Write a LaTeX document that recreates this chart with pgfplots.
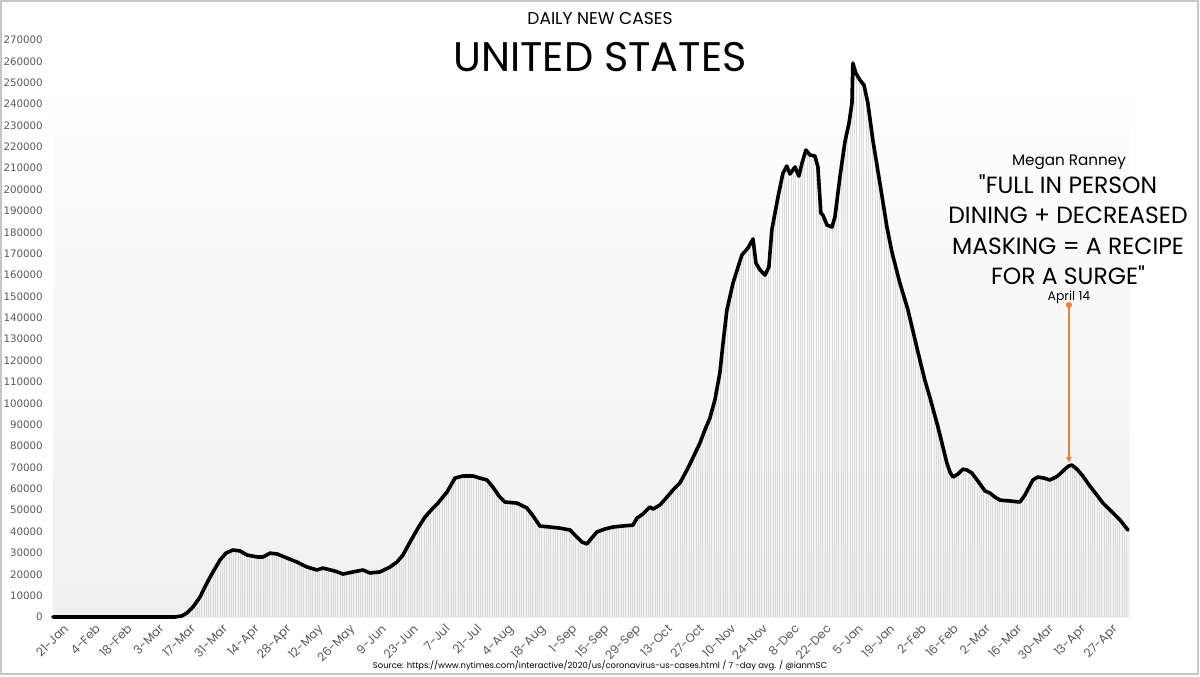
\documentclass[border=0pt]{standalone}
\usepackage{fontspec}
\setmainfont{Poppins}
\newfontfamily\qfont{Poppins}[Ligatures=TeXOff]
\newfontfamily\tickfont{DejaVu Sans}
\usepackage{pgfplots}
\usepackage{pgfplotstable}
\pgfplotsset{compat=1.18}
\usetikzlibrary{patterns.meta,arrows.meta}

\definecolor{tickgray}{HTML}{595959}
\definecolor{annot}{HTML}{ED7D31}

% days since 21-Jan-2020 (as drawn), 7-day average of new cases
\pgfplotstableread{
d v
0 0
42.7 0
53.7 0
56.8 500
59.0 1900
61.7 4700
64.8 9400
67.8 15900
70.5 21100
73.6 26700
76.2 29900
79.3 31350
82.4 30900
85.5 29000
89.9 28100
92.5 28100
95.6 29900
98.7 29500
103.1 27600
107.5 25700
111.9 23400
116.3 22000
118.9 22900
124.2 21500
127.8 20100
132.2 21100
136.6 22000
139.6 20600
144.1 21100
148.5 23400
151.5 25700
154.2 29000
157.3 35100
160.8 41600
163.9 46800
167.0 50500
169.6 53300
173.6 58500
177.1 65000
180.6 66000
185.0 66000
188.1 65000
191.2 64100
193.8 60800
196.5 56600
199.1 53800
204.4 53300
208.8 51000
211.5 47300
214.5 42600
218.9 42100
223.3 41600
227.8 40700
230.8 37400
233.0 35100
235.2 34200
237.4 37000
239.6 39800
243.2 41200
246.7 42100
251.1 42600
255.5 43000
257.3 46300
259.9 48200
263.0 51500
264.3 50500
267.4 52400
270.5 56100
273.1 59400
276.2 62700
279.3 68800
281.9 74400
285.0 81400
287.2 87500
289.4 93100
291.6 101500
293.8 114200
295.2 128200
296.9 143600
299.6 156300
303.5 169400
306.2 172700
308.4 176900
309.7 165600
311.5 162400
313.7 160000
315.4 163800
316.7 181100
319.4 196500
321.6 207700
323.3 211000
324.7 207300
326.9 210600
328.6 206300
330.0 212400
331.7 218500
333.5 216200
335.7 215700
337.0 210600
338.3 189000
339.2 188100
341.0 183400
343.2 182500
344.5 187200
346.7 205900
348.9 222300
350.7 231100
352.0 240500
352.4 259200
353.7 254500
355.5 251300
357.3 248900
359.0 240500
361.2 223200
364.3 203100
367.4 182500
369.6 170800
373.1 156300
376.7 143600
379.3 131900
381.9 120300
384.1 110900
386.3 102900
389.9 88900
392.1 79500
393.8 72100
395.2 67800
396.5 65500
398.7 66900
400.9 69200
402.6 68800
404.8 67400
407.5 63600
410.6 59000
412.8 58000
415.0 56100
417.2 54700
421.6 54300
426.0 53800
428.2 57100
431.7 64100
433.9 65500
436.6 65000
439.2 64100
441.9 65500
443.6 66900
445.8 69200
447.6 70700
448.9 71100
451.1 69200
453.7 66000
456.8 61300
459.9 57100
462.6 53300
464.8 51000
467.0 48700
470.1 45400
473.6 40700
}\cases

\begin{document}
\begin{tikzpicture}
\begin{axis}[
  at={(0pt,0pt)}, anchor=south west,
  scale only axis,
  width=807.75pt, height=432.75pt,
  xmin=0, xmax=474.5,
  ymin=0, ymax=270000,
  axis line style={draw=none},
  major tick length=0pt,
  ytick={0,10000,...,270000},
  scaled y ticks=false,
  /pgf/number format/assume math mode=true,
  yticklabel={\pgfmathprintnumber[fixed,1000 sep={}]{\tick}},
  yticklabel style={font=\tickfont\fontsize{7.7}{8}\selectfont, text=tickgray,
    inner sep=0pt, anchor=east, xshift=-7.5pt},
  xtick={0,14,...,462},
  xticklabels={21-Jan,4-Feb,18-Feb,3-Mar,17-Mar,31-Mar,14-Apr,28-Apr,12-May,26-May,
    9-Jun,23-Jun,7-Jul,21-Jul,4-Aug,18-Aug,1-Sep,15-Sep,29-Sep,13-Oct,27-Oct,
    10-Nov,24-Nov,8-Dec,22-Dec,5-Jan,19-Jan,2-Feb,16-Feb,2-Mar,16-Mar,30-Mar,13-Apr,27-Apr},
  xticklabel style={font=\fontsize{9}{10}\selectfont, text=tickgray, rotate=45,
    anchor=north east, inner sep=0pt, yshift=-8.5pt, xshift=2pt},
  axis background/.style={shade, top color=white, bottom color=black!6},
  clip=false,
]
\addplot[draw=none, pattern={Lines[angle=90,distance=1.7pt,line width=0.55pt]},
  pattern color=black!14] table[x=d,y=v]{\cases} \closedcycle;
\addplot[black, line width=2.7pt, line join=round, line cap=round] table[x=d,y=v]{\cases};
\addplot[annot, line width=1.4pt, -{Stealth[length=4pt,width=4.5pt]}]
  coordinates {(447.6,146000) (447.6,72500)};
\addplot[annot, only marks, mark=*, mark size=2pt] coordinates {(447.6,146000)};
\end{axis}

\node[anchor=base, font=\fontsize{12.8}{13}\selectfont] at (410.25pt,444pt) {DAILY NEW CASES};
\node[anchor=base, font=\fontsize{31}{32}\selectfont] at (410.25pt,408.75pt) {UNITED STATES};
\node[anchor=base, font=\fontsize{11.4}{12}\selectfont] at (762pt,338.25pt) {Megan Ranney};
\node[anchor=base, font=\qfont\fontsize{17.6}{18}\selectfont] at (761.25pt,317.25pt) {"FULL IN PERSON};
\node[anchor=base, font=\fontsize{17.6}{18}\selectfont] at (761.25pt,294.75pt) {DINING + DECREASED};
\node[anchor=base, font=\fontsize{17.6}{18}\selectfont] at (761.25pt,272.25pt) {MASKING = A RECIPE};
\node[anchor=base, font=\qfont\fontsize{17.6}{18}\selectfont] at (761.25pt,249.75pt) {FOR A SURGE"};
\node[anchor=base, font=\fontsize{9.3}{10}\selectfont] at (762pt,237pt) {April 14};
\node[anchor=base, font=\fontsize{6.3}{7}\selectfont] at (410.25pt,-38.25pt)
  {Source: https://www.nytimes.com/interactive/2020/us/coronavirus-us-cases.html / 7 -day avg. / @ianmSC};

\draw[black!22, line width=1.3pt] (-39pt,-43pt) rectangle (858.8pt,461.8pt);
\pgfresetboundingbox
\path[use as bounding box] (-39.75pt,-44.25pt) rectangle (860.25pt,462.75pt);
\end{tikzpicture}
\end{document}
